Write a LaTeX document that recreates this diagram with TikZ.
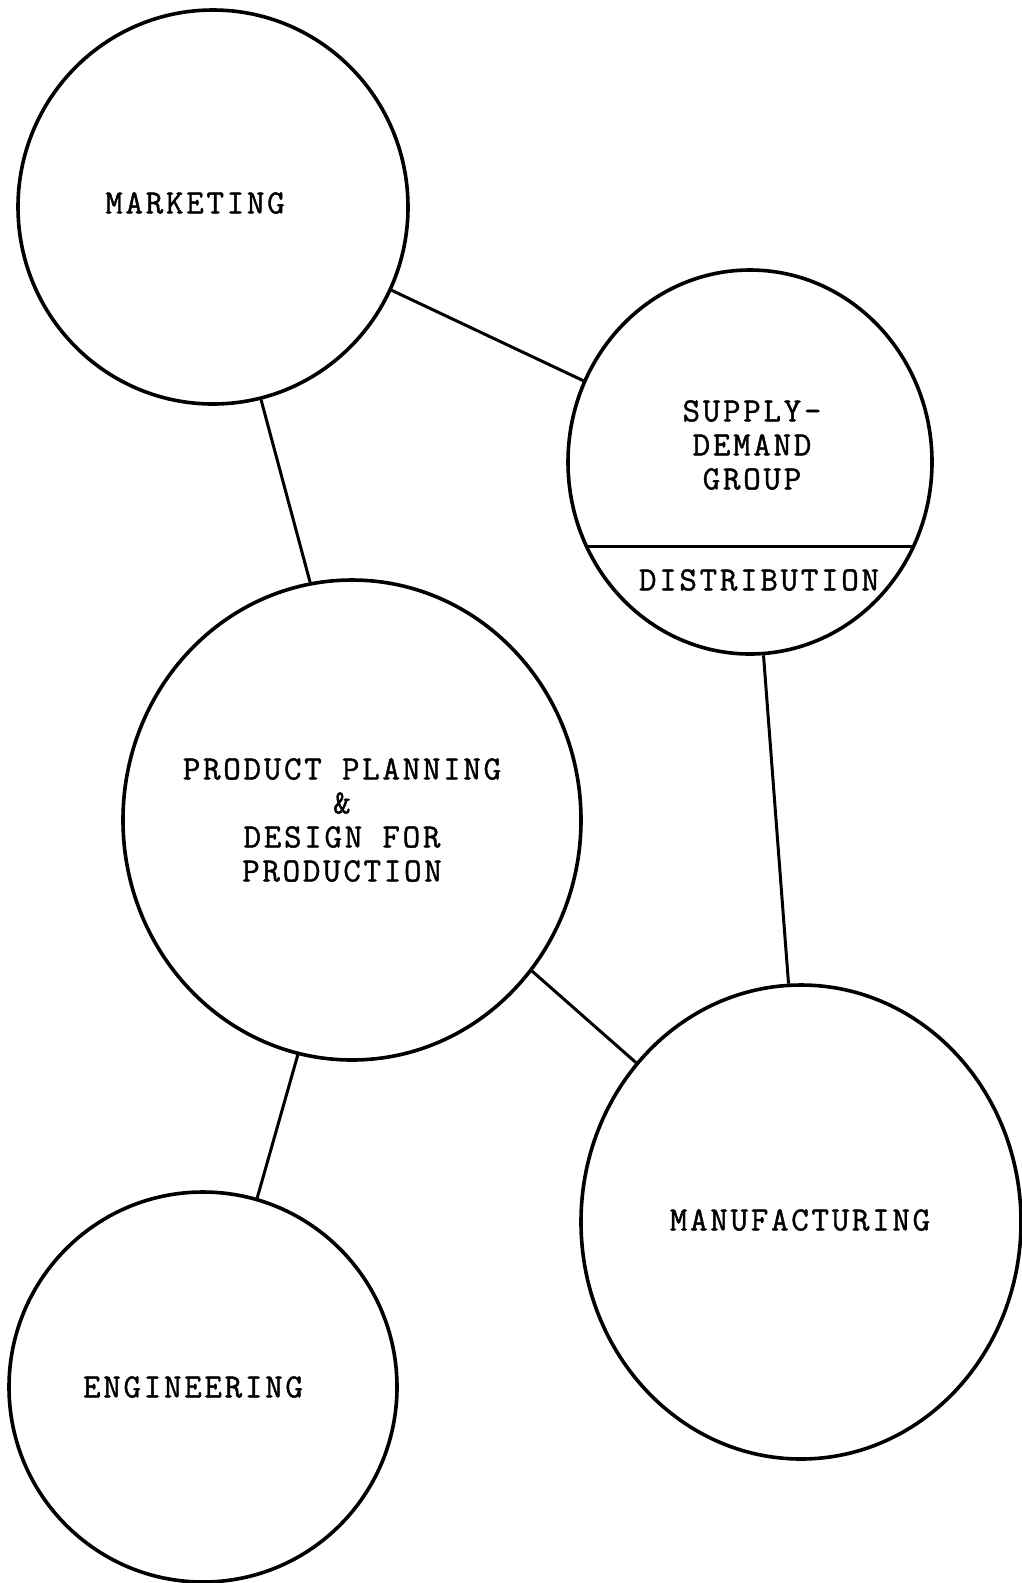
\documentclass[tikz,border=0pt]{standalone}
\usepackage{fontspec}
\newfontfamily\typewr[LetterSpace=8,FakeBold=1.2]{Latin Modern Mono}
\usetikzlibrary{shapes.geometric}

\begin{document}
\begin{tikzpicture}[x=1pt,y=-1pt,
	dept/.style={draw,ellipse,inner sep=0pt,line width=3.6pt},
	lbl/.style={font=\typewr\fontsize{34}{34}\selectfont,align=center,inner sep=0pt},
	link/.style={line width=3pt}]
	\useasboundingbox (0,0) rectangle (1021,1583);
	% departments
	\node[dept,minimum width=390pt,minimum height=394pt] (mkt) at (213,207) {};
	\node[dept,minimum width=364pt,minimum height=384pt] (sup) at (750,462) {};
	\node[dept,minimum width=458pt,minimum height=480pt] (pp) at (352,820) {};
	\node[dept,minimum width=440pt,minimum height=474pt] (mfg) at (801,1222) {};
	\node[dept,minimum width=388pt,minimum height=390pt] (eng) at (203,1387) {};
	% texts
	\node[lbl] (mkttext) at (195,203) {MARKETING};
	\node[lbl] (suptext) at (752,445) {SUPPLY-\\DEMAND\\GROUP};
	\node[lbl] (disttext) at (759,580) {DISTRIBUTION};
	\node[lbl] (pptext) at (342,820) {PRODUCT PLANNING\\\&\\DESIGN FOR\\PRODUCTION};
	\node[lbl] (mfgtext) at (800,1220) {MANUFACTURING};
	\node[lbl] (engtext) at (193,1387) {ENGINEERING};
	% distribution split
	\draw[link] (sup.207.9) -- (sup.-27.9);
	% links
	\draw[link] (mkt.-25.1) -- (sup.154);
	\draw[link] (mkt.-76.1) -- (pp.100.8);
	\draw[link] (sup.-86.5) -- (mfg.93.4);
	\draw[link] (pp.-40.3) -- (mfg.136.2);
	\draw[link] (pp.-103.1) -- (eng.74.4);
\end{tikzpicture}
\end{document}
